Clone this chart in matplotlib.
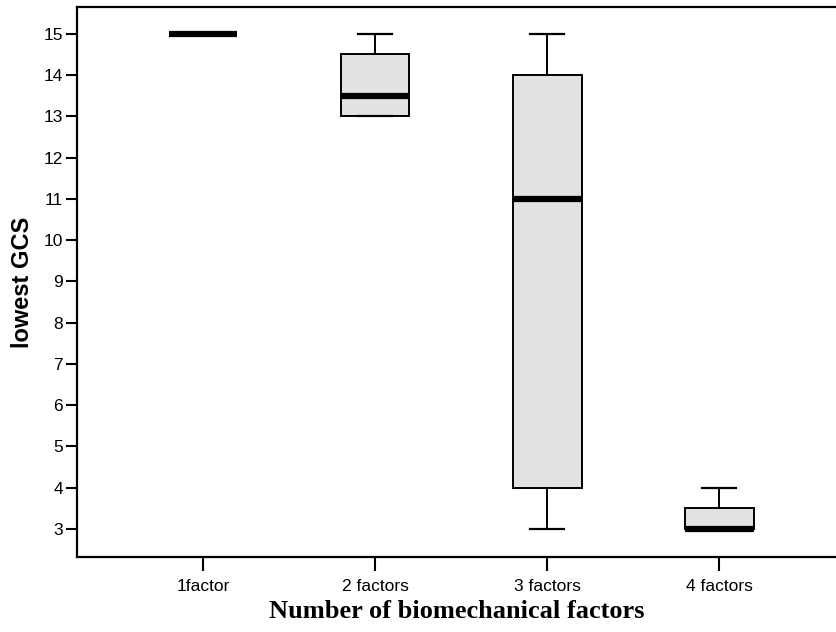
import matplotlib
matplotlib.use("Agg")
import matplotlib.pyplot as plt

categories = ["1factor", "2 factors", "3 factors", "4 factors"]
whisker_low = [15, 13, 3, 3]
q1 = [15, 13, 4, 3]
median = [15, 13.5, 11, 3]
q3 = [15, 14.5, 14, 3.5]
whisker_high = [15, 15, 15, 4]

stats = []
for i, lab in enumerate(categories):
    stats.append({"label": lab, "whislo": whisker_low[i], "q1": q1[i],
                  "med": median[i], "q3": q3[i], "whishi": whisker_high[i],
                  "fliers": []})

fig = plt.figure(figsize=(8.36, 6.32), dpi=100)
ax = fig.add_axes([0.0921, 0.1187, 0.908, 0.8703])

ax.bxp(stats, positions=[1, 2, 3, 4], widths=0.4, patch_artist=True,
       showfliers=False,
       boxprops=dict(facecolor="#e2e2e2", edgecolor="black", linewidth=1.4),
       medianprops=dict(color="black", linewidth=4.5, solid_capstyle="butt"),
       whiskerprops=dict(color="black", linewidth=1.4),
       capprops=dict(color="black", linewidth=1.6),
       capwidths=0.2)

ax.set_xlim(0.267, 4.68)
ax.set_ylim(2.32, 15.65)
ax.set_yticks(range(3, 16))
ax.set_xticks([1, 2, 3, 4])
ax.set_xticklabels(categories)

for s in ["left", "bottom", "top"]:
    ax.spines[s].set_linewidth(1.6)
ax.spines["right"].set_visible(False)

ax.tick_params(axis="y", length=8, width=1.5, labelsize=12.5, pad=2)
ax.tick_params(axis="x", length=10, width=1.5, labelsize=12.5, pad=6)
for t in ax.get_yticklabels() + ax.get_xticklabels():
    t.set_family("Liberation Sans")

ax.set_ylabel("lowest GCS", family="Liberation Sans", fontweight="bold",
              fontsize=17, labelpad=7)
ax.set_xlabel("Number of biomechanical factors", family="Liberation Serif",
              fontweight="bold", fontsize=19, labelpad=4)

fig.savefig("out.png", dpi=100)
